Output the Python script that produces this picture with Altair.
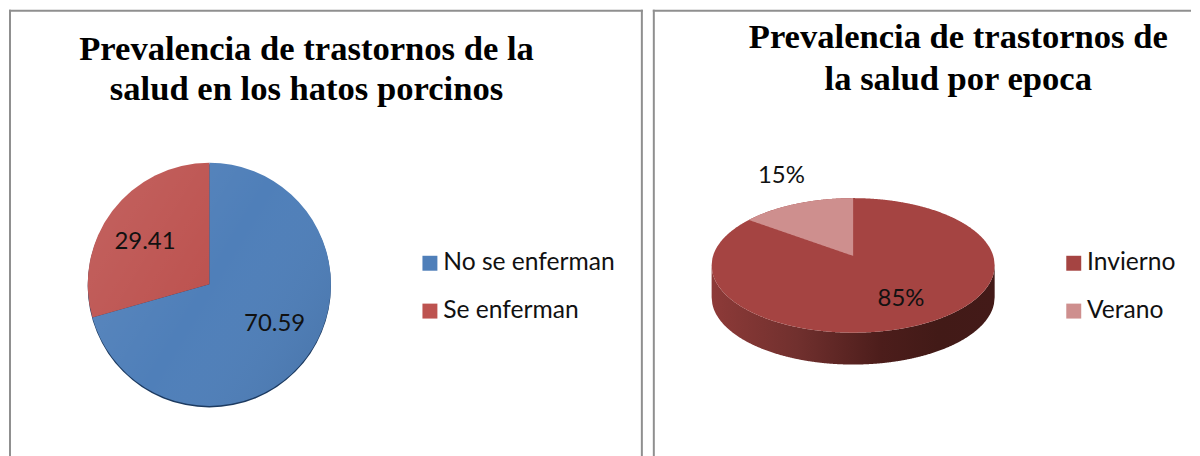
import math
import altair as alt
import numpy as np
import pandas as pd

# ---- values ----
TITLE_HATOS = ["Prevalencia de trastornos de la", "salud en los hatos porcinos"]
TITLE_EPOCA = ["Prevalencia de trastornos de", "la salud por epoca"]
HATOS_CATS = ["No se enferman", "Se enferman"]
HATOS_VALS = [70.59, 29.41]
EPOCA_CATS = ["Invierno", "Verano"]
EPOCA_VALS = [85, 15]
EPOCA_LABELS = ["85%", "15%"]

FONT = "Lato"
SERIF = "Liberation Serif"
BORDER = "#8f8f8f"
PANEL1_W, PANEL2_W, PANEL_H = 636, 540, 449
OX1, OX2, OY = 8, 652, 8  # page position of the panels' origins
one = alt.Data(values=[{"a": 1}])


def legend(x, y):
    return alt.Legend(
        orient="none", legendX=x, legendY=y, title=None,
        symbolType="square", symbolSize=225, symbolStrokeWidth=0,
        labelFont=FONT, labelFontSize=24.7, labelColor="#111111",
        labelOffset=1, rowPadding=22, labelLimit=300,
    )


def title(lines, dx, offset, line_height):
    return alt.TitleParams(
        text=lines, font=SERIF, fontSize=34.7, fontWeight="bold", color="#000000",
        anchor="middle", dx=dx, offset=offset, lineHeight=line_height, baseline="top",
    )


def label(txt, px, py, ox):
    return alt.Chart(alt.Data(values=[{"t": txt}])).mark_text(
        font=FONT, fontSize=24, color="#111111"
    ).encode(text="t:N", x=alt.value(px - ox), y=alt.value(py - OY))


def vrule(x, h):
    return alt.Chart(one).mark_rule(color=BORDER, strokeWidth=2).encode(
        x=alt.value(x), y=alt.value(0), y2=alt.value(h)
    )


def hrule(y, w):
    return alt.Chart(one).mark_rule(color=BORDER, strokeWidth=2).encode(
        y=alt.value(y), x=alt.value(0), x2=alt.value(w)
    )


# ---- left panel: flat pie ----
cx1, cy1, r1 = 209 - OX1, 283.5 - OY, 122
hatos = pd.DataFrame({"cat": HATOS_CATS, "val": HATOS_VALS, "idx": range(len(HATOS_VALS))})

rim = alt.Chart(one).mark_arc(
    theta=0, theta2=2 * math.pi, radius=r1, color="#1c3a60"
).encode(x=alt.value(cx1), y=alt.value(cy1 + 1.5))

pie = alt.Chart(hatos).mark_arc(radius=r1).encode(
    theta=alt.Theta("val:Q", stack=True),
    order=alt.Order("idx:Q"),
    color=alt.Color(
        "cat:N",
        scale=alt.Scale(domain=HATOS_CATS, range=["#4f7fb9", "#bd5350"]),
        legend=legend(410, 242),
    ),
    x=alt.value(cx1), y=alt.value(cy1),
)

sheen = alt.Chart(one).mark_arc(
    theta=0, theta2=2 * math.pi, radius=r1,
    fill=alt.LinearGradient(
        gradient="linear", x1=0, y1=0.2, x2=1, y2=0.8,
        stops=[
            alt.GradientStop(offset=0, color="rgba(255,255,255,0.08)"),
            alt.GradientStop(offset=0.5, color="rgba(255,255,255,0)"),
            alt.GradientStop(offset=1, color="rgba(0,0,0,0.07)"),
        ],
    ),
).encode(x=alt.value(cx1), y=alt.value(cy1))

left = alt.layer(
    vrule(1, PANEL_H), vrule(PANEL1_W - 1, PANEL_H), hrule(1, PANEL1_W),
    rim, pie, sheen,
    label(f"{HATOS_VALS[1]:.2f}", 144.5, 241, OX1),
    label(f"{HATOS_VALS[0]:.2f}", 274.5, 323, OX1),
).properties(width=PANEL1_W, height=PANEL_H, title=title(TITLE_HATOS, -19.5, -99, 40))

# ---- right panel: tilted pie, built from the ellipse of the disc ----
cx2, cy2, a, b, depth = 853 - OX2, 264.5 - OY, 142, 67.5, 32
apex_y = 255 - OY
SLICE_TILT = 0.88  # foreshortening of the slice angle by the 3D view

sx = alt.Scale(domain=[0, PANEL2_W], range=[0, PANEL2_W])
sy = alt.Scale(domain=[0, PANEL_H], range=[0, PANEL_H])
X = alt.X("x:Q", scale=sx, axis=None)
Y = alt.Y("y:Q", scale=sy, axis=None)
Y2 = alt.Y2("y2:Q")
epoca_scale = alt.Scale(domain=EPOCA_CATS, range=["#a54442", "#ce8f8e"])

t = np.linspace(-1, 1, 401)
xs = cx2 + a * t
half = b * np.sqrt(1 - t ** 2)

side_df = pd.DataFrame({"x": xs, "y": cy2 + half, "y2": cy2 + half + depth})
face_df = pd.DataFrame({"x": xs, "y": cy2 - half, "y2": cy2 + half, "cat": EPOCA_CATS[0]})

ang = math.radians(EPOCA_VALS[1] / sum(EPOCA_VALS) * 360 * SLICE_TILT)
ex, ey = cx2 - a * math.sin(ang), cy2 - b * math.cos(ang)
u = np.linspace(ex, cx2, 121)
slice_df = pd.DataFrame({
    "x": u,
    "y": cy2 - b * np.sqrt(1 - ((u - cx2) / a) ** 2),
    "y2": ey + (apex_y - ey) * (u - ex) / (cx2 - ex),
    "cat": EPOCA_CATS[1],
})

side = alt.Chart(side_df).mark_area(
    fill=alt.LinearGradient(
        gradient="linear", x1=0, y1=0, x2=1, y2=0,
        stops=[
            alt.GradientStop(offset=0, color="#8d3a38"),
            alt.GradientStop(offset=0.3, color="#71302e"),
            alt.GradientStop(offset=0.6, color="#4c1d1b"),
            alt.GradientStop(offset=0.8, color="#421a17"),
            alt.GradientStop(offset=1, color="#431a18"),
        ],
    )
).encode(x=X, y=Y, y2=Y2)

face = alt.Chart(face_df).mark_area().encode(
    x=X, y=Y, y2=Y2,
    color=alt.Color("cat:N", scale=epoca_scale, legend=legend(410, 242)),
)
slice_ = alt.Chart(slice_df).mark_area().encode(
    x=X, y=Y, y2=Y2,
    color=alt.Color("cat:N", scale=epoca_scale, legend=legend(410, 242)),
)

right = alt.layer(
    vrule(1, PANEL_H), hrule(1, PANEL2_W),
    side, face, slice_,
    label(EPOCA_LABELS[1], 781, 175, OX2),
    label(EPOCA_LABELS[0], 901, 298, OX2),
).properties(width=PANEL2_W, height=PANEL_H, title=title(TITLE_EPOCA, 36.5, -89, 41.5))

chart = (
    alt.hconcat(left, right, spacing=8, padding=0, background="white")
    .resolve_scale(color="independent")
    .configure_view(stroke=None)
)

chart.save("out.html", embed_options={"renderer": "svg", "actions": False})
